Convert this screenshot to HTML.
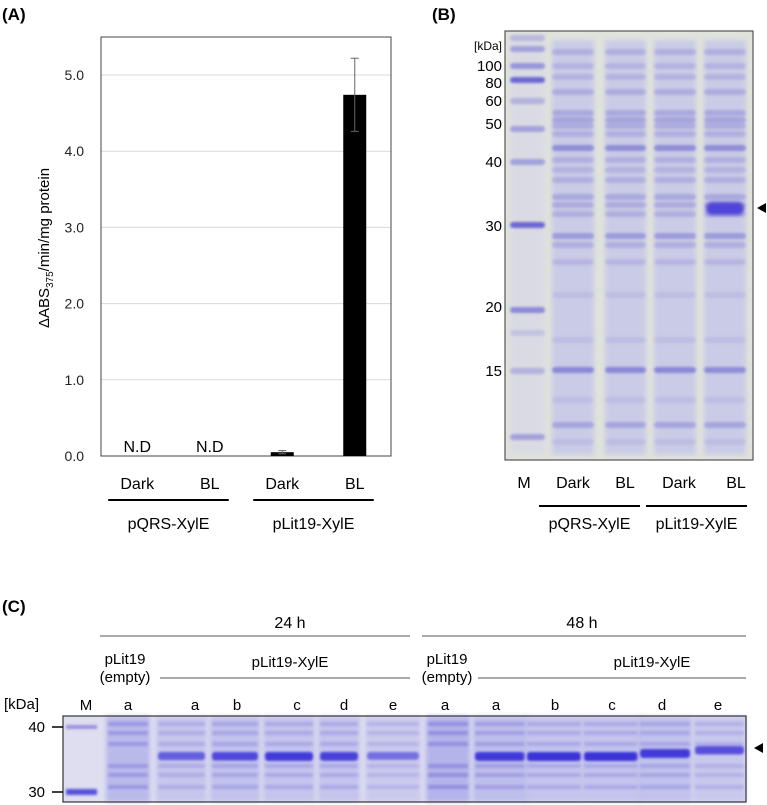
<!DOCTYPE html>
<html><head><meta charset="utf-8"><style>
html,body{margin:0;padding:0;background:#fff;}
svg{display:block;font-family:"Liberation Sans",Arial,sans-serif;}
</style></head><body>
<svg id="fig" width="767" height="805" viewBox="0 0 767 805">
<defs>
<filter id="blur1" x="-10%" y="-80%" width="120%" height="260%"><feGaussianBlur stdDeviation="1.8"/></filter>
<filter id="blur2" x="-10%" y="-80%" width="120%" height="260%"><feGaussianBlur stdDeviation="1.3"/></filter>
<filter id="blur3" x="-10%" y="-10%" width="120%" height="120%"><feGaussianBlur stdDeviation="2.5"/></filter>
</defs>
<text x="2" y="20" font-size="17" font-weight="bold">(A)</text>
<g id="chartA"></g>
<text x="432" y="20" font-size="17" font-weight="bold">(B)</text>
<g id="gelB"></g>
<text x="2" y="612" font-size="17" font-weight="bold">(C)</text>
<g id="gelC"></g>
</svg>
<script>
const NS="http://www.w3.org/2000/svg";
function mk(parent,tag,attrs,text){const e=document.createElementNS(NS,tag);for(const k in attrs)e.setAttribute(k,attrs[k]);if(text!==undefined)e.textContent=text;parent.appendChild(e);return e;}

// ===== Panel A data =====
const categories=["Dark","BL","Dark","BL"];
const groups=["pQRS-XylE","pLit19-XylE"];
const values=[0,0,0.05,4.74];
const errors=[0,0,0.02,0.48];
const detected=[false,false,true,true];
const yTicks=[0,1,2,3,4,5];
const yTickLabels=["0.0","1.0","2.0","3.0","4.0","5.0"];

const A=document.getElementById('chartA');
const px0=101,px1=391,py0=37,py1=456;
function yA(v){return py1-(v/5)*(py1-75);}
function xA(i){return px0+(i+0.5)*(px1-px0)/categories.length;}
yTicks.forEach((t,i)=>{
  if(t>0){const g=mk(A,'line',{x1:px0,x2:px1,y1:yA(t),y2:yA(t),stroke:'#d9d9d9','stroke-width':1});
  
  }
  const l=mk(A,'text',{x:84,y:yA(t)+5,'font-size':14,'text-anchor':'end',fill:'#222'},yTickLabels[i]);
  
  
});
const frame=mk(A,'rect',{x:px0,y:py0,width:px1-px0,height:py1-py0,fill:'none',stroke:'#444','stroke-width':1});


const bw=23;
categories.forEach((c,i)=>{
  const cx=xA(i);
  if(detected[i]){
    const b=mk(A,'rect',{x:cx-bw/2,y:yA(values[i]),width:bw,height:py1-yA(values[i]),fill:'#000'});
    
    
    const e=mk(A,'path',{d:`M${cx},${yA(values[i]+errors[i])}V${yA(values[i]-errors[i])}M${cx-4},${yA(values[i]+errors[i])}H${cx+4}M${cx-4},${yA(values[i]-errors[i])}H${cx+4}`,stroke:'#666','stroke-width':1,fill:'none'});
    
    
  } else {
    const n=mk(A,'text',{x:cx,y:452,'font-size':16,'text-anchor':'middle'},'N.D');
    
    
  }
  const t=mk(A,'text',{x:cx,y:489,'font-size':16,'text-anchor':'middle'},c);
  
  
});
groups.forEach((g,gi)=>{
  const x1=xA(gi*2)-29,x2=xA(gi*2+1)+19;
  const ln=mk(A,'line',{x1:x1,x2:x2,y1:500,y2:500,stroke:'#000','stroke-width':2});
  
  
  const t=mk(A,'text',{x:(x1+x2)/2,y:529,'font-size':16,'text-anchor':'middle'},g);
  
  
});
const yt=mk(A,'text',{x:0,y:0,'font-size':15,'text-anchor':'middle',transform:'translate(49,248) rotate(-90)'});


yt.innerHTML='ΔABS<tspan font-size="10" dy="4">375</tspan><tspan dy="-4">/min/mg protein</tspan>';

// ===== Panel B gel =====
const B=document.getElementById('gelB');
const gx0=505,gx1=753,gy0=31,gy1=460;
mk(B,'rect',{x:gx0,y:gy0,width:gx1-gx0,height:gy1-gy0,fill:'#e0e2dc'});
const markerLabels=["[kDa]","100","80","60","50","40","30","20","15"];
const markerY=[45,66,83,101,124,162,226,307,371];
markerLabels.forEach((m,i)=>{
  const t=mk(B,'text',{x:502,y:markerY[i]+5,'font-size':m==="[kDa]"?12:15,'text-anchor':'end'},m);
  
  
});
const laneB=[[510,545],[552,594],[605,646],[654,696],[704,746]];
const mBands=[[38,.3],[49,.5],[66,.6],[80,1],[101,.35],[129,.5],[162,.5],[225,1],[310,.7],[333,.2],[371,.35],[437,.5]];
mk(B,'rect',{x:laneB[0][0],y:34,width:laneB[0][1]-laneB[0][0],height:420,fill:'#d4d4ea',opacity:.5,filter:'url(#blur3)'});
mBands.forEach(b=>{mk(B,'rect',{x:laneB[0][0],y:b[0]-3,width:laneB[0][1]-laneB[0][0],height:6,rx:3,fill:'#5a55d0',opacity:b[1]*0.85,filter:'url(#blur2)'});});
const sBands=[[52,.4],[66,.35],[77,.35],[92,.45],[113,.5],[120,.55],[126,.45],[134,.4],[148,.9],[160,.4],[170,.35],[180,.4],[197,.5],[205,.45],[214,.4],[236,.7],[245,.4],[262,.3],[295,.2],[340,.2],[370,1],[400,.2],[425,.55],[442,.2]];
for(let l=1;l<5;l++){
  const [a,b]=laneB[l];
  mk(B,'rect',{x:a,y:40,width:b-a,height:415,fill:'#c3c4ea',opacity:.75,filter:'url(#blur3)'});
  sBands.forEach(s=>{mk(B,'rect',{x:a,y:s[0]-3,width:b-a,height:6,rx:3,fill:'#5f5acc',opacity:s[1]*(l===4&&s[0]===370?0.55:0.6),filter:'url(#blur2)'});});
  if(l===4){mk(B,'rect',{x:a+2,y:202,width:b-a-4,height:13,rx:6,fill:'#4f45d8',filter:'url(#blur1)'});}
}
mk(B,'rect',{x:gx0,y:gy0,width:gx1-gx0,height:gy1-gy0,fill:'none',stroke:'#555','stroke-width':1.2});
const bLanes=["M","Dark","BL","Dark","BL"];
const bLaneX=[524,573,625,679,736];
bLanes.forEach((t,i)=>{const e=mk(B,'text',{x:bLaneX[i],y:488,'font-size':16,'text-anchor':'middle'},t);

});
[[539,640,"pQRS-XylE"],[646,747,"pLit19-XylE"]].forEach(g=>{
  const ln=mk(B,'line',{x1:g[0],x2:g[1],y1:506,y2:506,stroke:'#000','stroke-width':2});
  
  
  const t=mk(B,'text',{x:(g[0]+g[1])/2,y:529,'font-size':16,'text-anchor':'middle'},g[2]);
  
  
});
const arB=mk(B,'path',{d:'M757,208 L766,203 L766,213 Z',fill:'#000'});



// ===== Panel C gel =====
const C=document.getElementById('gelC');
const cx0=63,cx1=746,cy0=716,cy1=802;
mk(C,'rect',{x:cx0,y:cy0,width:cx1-cx0,height:cy1-cy0,fill:'#dedef0'});
const laneC=[[63,100],[106,150],[156,207],[210,260],[263,315],[318,360],[365,421],[426,470],[473,527],[525,583],[582,640],[638,692],[693,746]];
const laneLetters=["M","a","a","b","c","d","e","a","a","b","c","d","e"];
const laneLetterX=[86,128,195,237,297,344,393,445,496,555,612,662,718];
const bandStrength=[0,0,.7,.85,.95,.9,.6,0,.95,1,1,.95,.8];
const laneDark=[0,.85,.55,.65,.6,.6,.45,1,.75,.6,.6,.65,.5];
laneC.forEach((ln,i)=>{
  const [a,b]=ln;
  if(i===0){
    mk(C,'rect',{x:a+3,y:725,width:b-a-6,height:4,fill:'#6a60d0',opacity:.6,filter:'url(#blur2)'});
    mk(C,'rect',{x:a+3,y:789,width:b-a-6,height:6,fill:'#4a42d8',opacity:.9,filter:'url(#blur2)'});
  } else {
    mk(C,'rect',{x:a,y:cy0,width:b-a,height:cy1-cy0,fill:'#b4b4ea',opacity:laneDark[i],filter:'url(#blur3)'});
    [724,733,744,766,775,787].forEach(y=>{mk(C,'rect',{x:a+2,y:y-2,width:b-a-4,height:4,fill:'#6a60d4',opacity:laneDark[i]*0.45,filter:'url(#blur2)'});});
    if(bandStrength[i]>0){
      const by = i===12?749:(i>=11?752:755);
      mk(C,'rect',{x:a+2,y:by-3,width:b-a-4,height:6+bandStrength[i]*3,rx:3,fill:'#3a30d8',opacity:bandStrength[i],filter:'url(#blur2)'});
    }
  }
  const t=mk(C,'text',{x:laneLetterX[i],y:710,'font-size':15,'text-anchor':'middle'},laneLetters[i]);
  
  
});
mk(C,'rect',{x:cx0,y:cy0,width:cx1-cx0,height:cy1-cy0,fill:'none',stroke:'#333','stroke-width':1.2});
[["[kDa]",4,709,"start"],["40",45,732,"end"],["30",45,797,"end"]].forEach(m=>{
  const t=mk(C,'text',{x:m[1],y:m[2],'font-size':15,'text-anchor':m[3]},m[0]);
  
  
});
[727,792].forEach(y=>{mk(C,'line',{x1:52,x2:63,y1:y,y2:y,stroke:'#000','stroke-width':1.5});});
[[100,410,"24 h",290],[422,746,"48 h",582]].forEach(h=>{
  const ln=mk(C,'line',{x1:h[0],x2:h[1],y1:636,y2:636,stroke:'#555','stroke-width':1});
  
  
  const t=mk(C,'text',{x:h[3],y:628,'font-size':16,'text-anchor':'middle'},h[2]);
  
  
});
[[125,160,410,290],[447,478,746,652]].forEach(p=>{
  const t1=mk(C,'text',{x:p[0],y:664,'font-size':15,'text-anchor':'middle'},'pLit19');
  
  
  const t2=mk(C,'text',{x:p[0],y:682,'font-size':15,'text-anchor':'middle'},'(empty)');
  
  
  const ln=mk(C,'line',{x1:p[1],x2:p[2],y1:678,y2:678,stroke:'#555','stroke-width':1});
  
  
  const t3=mk(C,'text',{x:p[3],y:667,'font-size':15,'text-anchor':'middle'},'pLit19-XylE');
  
  
});
const arC=mk(C,'path',{d:'M754,748 L763,743 L763,753 Z',fill:'#000'});


</script>
</body></html>
